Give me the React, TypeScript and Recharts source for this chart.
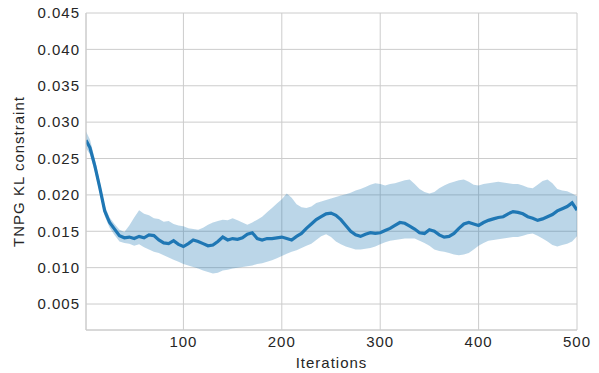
import {
  ComposedChart, Area, Line, XAxis, YAxis, CartesianGrid, Label,
} from "recharts";

const blue = "#1f77b4";
const grid = "#cccccc";
const ink = "#262626";
const font = "'Liberation Sans', Arial, sans-serif";

const iterations = [
  1, 5, 10, 15, 20, 25, 30, 35, 40, 45, 50, 55, 60, 65, 70, 75, 80, 85, 90, 95,
  100, 105, 110, 115, 120, 125, 130, 135, 140, 145, 150, 155, 160, 165, 170, 175, 180, 185, 190, 195,
  200, 205, 210, 215, 220, 225, 230, 235, 240, 245, 250, 255, 260, 265, 270, 275, 280, 285, 290, 295,
  300, 305, 310, 315, 320, 325, 330, 335, 340, 345, 350, 355, 360, 365, 370, 375, 380, 385, 390, 395,
  400, 405, 410, 415, 420, 425, 430, 435, 440, 445, 450, 455, 460, 465, 470, 475, 480, 485, 490, 495, 500,
];

const meanKL = [
  0.0275, 0.0265, 0.0240, 0.0210, 0.0178, 0.0162, 0.0153, 0.0144, 0.0141, 0.0142, 0.0140, 0.0143, 0.0141, 0.0145, 0.0144, 0.0138, 0.0134, 0.0133, 0.0137, 0.0132,
  0.0129, 0.0133, 0.0138, 0.0136, 0.0133, 0.0130, 0.0131, 0.0136, 0.0142, 0.0138, 0.0140, 0.0139, 0.0141, 0.0146, 0.0148, 0.0140, 0.0138, 0.0140, 0.0140, 0.0141,
  0.0142, 0.0140, 0.0138, 0.0143, 0.0147, 0.0154, 0.0160, 0.0166, 0.0170, 0.0174, 0.0175, 0.0172, 0.0166, 0.0158, 0.0150, 0.0145, 0.0143, 0.0146, 0.0148, 0.0147,
  0.0148, 0.0151, 0.0154, 0.0158, 0.0162, 0.0161, 0.0157, 0.0153, 0.0148, 0.0147, 0.0152, 0.0150, 0.0145, 0.0142, 0.0143, 0.0147, 0.0154, 0.0160, 0.0162, 0.0160,
  0.0158, 0.0162, 0.0165, 0.0167, 0.0169, 0.0170, 0.0174, 0.0177, 0.0176, 0.0174, 0.0170, 0.0168, 0.0165, 0.0167, 0.0170, 0.0173, 0.0178, 0.0181, 0.0184, 0.0189, 0.0179,
];

const lowKL = [
  0.0264, 0.0256, 0.0232, 0.0203, 0.0171, 0.0155, 0.0145, 0.0136, 0.0134, 0.0133, 0.0130, 0.0132, 0.0128, 0.0125, 0.0122, 0.0120, 0.0117, 0.0114, 0.0111, 0.0108,
  0.0105, 0.0103, 0.0101, 0.0099, 0.0096, 0.0094, 0.0092, 0.0093, 0.0096, 0.0097, 0.0099, 0.0100, 0.0101, 0.0102, 0.0103, 0.0105, 0.0106, 0.0108, 0.0110, 0.0113,
  0.0116, 0.0119, 0.0122, 0.0124, 0.0127, 0.0130, 0.0133, 0.0138, 0.0143, 0.0146, 0.0142, 0.0136, 0.0132, 0.0129, 0.0127, 0.0125, 0.0125, 0.0126, 0.0127, 0.0129,
  0.0132, 0.0135, 0.0137, 0.0138, 0.0139, 0.0140, 0.0140, 0.0140, 0.0137, 0.0134, 0.0130, 0.0125, 0.0123, 0.0122, 0.0120, 0.0118, 0.0117, 0.0118, 0.0120, 0.0125,
  0.0130, 0.0134, 0.0137, 0.0138, 0.0139, 0.0140, 0.0141, 0.0142, 0.0142, 0.0144, 0.0146, 0.0147, 0.0144, 0.0140, 0.0136, 0.0131, 0.0129, 0.0131, 0.0133, 0.0136, 0.0143,
];

const highKL = [
  0.0287, 0.0276, 0.0249, 0.0218, 0.0185, 0.0169, 0.0160, 0.0152, 0.0149, 0.0158, 0.0169, 0.0179, 0.0174, 0.0172, 0.0168, 0.0167, 0.0163, 0.0164, 0.0160, 0.0158,
  0.0157, 0.0154, 0.0153, 0.0152, 0.0155, 0.0159, 0.0162, 0.0164, 0.0166, 0.0165, 0.0168, 0.0165, 0.0162, 0.0159, 0.0162, 0.0166, 0.0170, 0.0176, 0.0182, 0.0188,
  0.0194, 0.0202, 0.0196, 0.0187, 0.0183, 0.0182, 0.0184, 0.0189, 0.0191, 0.0193, 0.0195, 0.0197, 0.0199, 0.0201, 0.0203, 0.0206, 0.0208, 0.0211, 0.0214, 0.0216,
  0.0215, 0.0213, 0.0215, 0.0216, 0.0218, 0.0220, 0.0221, 0.0215, 0.0208, 0.0204, 0.0202, 0.0204, 0.0209, 0.0213, 0.0216, 0.0218, 0.0220, 0.0221, 0.0218, 0.0214,
  0.0213, 0.0215, 0.0216, 0.0217, 0.0218, 0.0217, 0.0216, 0.0215, 0.0215, 0.0213, 0.0210, 0.0209, 0.0214, 0.0219, 0.0221, 0.0216, 0.0208, 0.0206, 0.0205, 0.0202, 0.0198,
];

const yTicks = [0.005, 0.01, 0.015, 0.02, 0.025, 0.03, 0.035, 0.04, 0.045];
const xTicks = [100, 200, 300, 400, 500];

const data = iterations.map((it, i) => ({
  it,
  mean: meanKL[i],
  band: [lowKL[i], highKL[i]],
}));

const tickStyle = { fontSize: 15, fill: ink, fontFamily: font, letterSpacing: 1 };

export default function App() {
  return (
    <div style={{ position: "absolute", left: 0, top: 0, background: "#fff" }}>
      <ComposedChart
        width={599}
        height={373}
        data={data}
        margin={{ top: 13, right: 22, bottom: 0, left: 0 }}
      >
        <CartesianGrid stroke={grid} strokeWidth={1} />
        <XAxis
          dataKey="it"
          type="number"
          domain={[1, 500]}
          ticks={xTicks}
          allowDataOverflow
          height={43}
          tick={tickStyle}
          tickLine={false}
          axisLine={{ stroke: grid }}
          tickMargin={0}
        >
          <Label value="Iterations" position="insideBottom" offset={5}
            style={{ fontSize: 15, fill: ink, fontFamily: font, letterSpacing: 1 }} />
        </XAxis>
        <YAxis
          type="number"
          domain={[0.00143, 0.045]}
          ticks={yTicks}
          allowDataOverflow
          width={86}
          tick={tickStyle}
          tickFormatter={(v: number) => v.toFixed(3)}
          tickLine={false}
          axisLine={{ stroke: grid }}
          tickMargin={0}
        >
          <Label value="TNPG KL constraint" angle={-90} position="insideLeft" offset={19}
            style={{ fontSize: 15, fill: ink, fontFamily: font, letterSpacing: 1, textAnchor: "middle" }} />
        </YAxis>
        <Area
          dataKey="band"
          type="linear"
          stroke="none"
          fill={blue}
          fillOpacity={0.3}
          isAnimationActive={false}
        />
        <Line
          dataKey="mean"
          type="linear"
          stroke={blue}
          strokeWidth={3.2}
          dot={false}
          isAnimationActive={false}
        />
      </ComposedChart>
    </div>
  );
}
